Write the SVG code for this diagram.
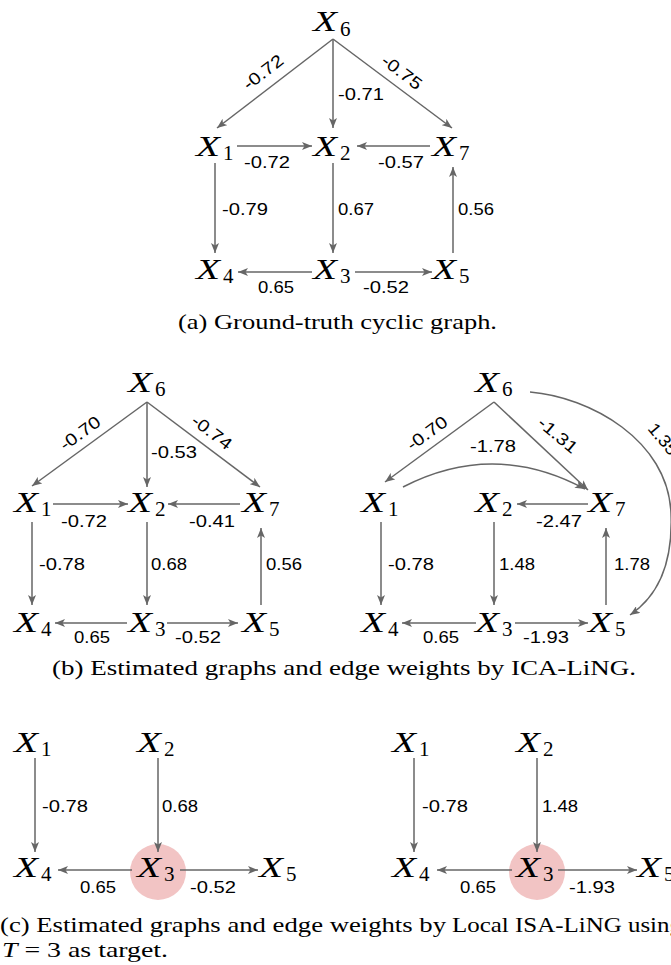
<svg xmlns="http://www.w3.org/2000/svg" width="671" height="965" viewBox="0 0 671 965">
<defs>
<marker id="ah" viewBox="0 0 10 8" refX="10" refY="4" markerWidth="10" markerHeight="8" markerUnits="userSpaceOnUse" orient="auto">
<path d="M0,0 L10,4 L0,8 L2.5,4 z" fill="#666"/>
</marker>
<style>
.e{fill:none;stroke:#666;stroke-width:1.5;marker-end:url(#ah)}
.n{font-family:"Liberation Serif",serif;font-style:italic;font-size:30px;fill:#000}
.s{font-family:"Liberation Serif",serif;font-size:21px;fill:#000}
.l{font-family:"Liberation Sans",Arial,sans-serif;font-size:17px;fill:#000}
.c{font-family:"Liberation Serif",serif;font-size:21px;fill:#000}
.hl{fill:#f2c4c4}
</style>
</defs>
<rect width="671" height="965" fill="#fff"/>

<!-- (a) -->
<g id="a-edges">
<path class="e" d="M333,39 L217,128"/>
<path class="e" d="M333,39 L333,128"/>
<path class="e" d="M333,39 L452,128"/>
<path class="e" d="M237,146 L312,146"/>
<path class="e" d="M430,146 L357,146"/>
<path class="e" d="M215,163 L215,253"/>
<path class="e" d="M333,163 L333,253"/>
<path class="e" d="M453,253 L453,167"/>
<path class="e" d="M312,272 L238,272"/>
<path class="e" d="M355,272 L432,272"/>
<text class="l" x="263" y="78" text-anchor="middle" textLength="46" lengthAdjust="spacingAndGlyphs" transform="rotate(-37.5 263 72)">-0.72</text>
<text class="l" x="338" y="100" textLength="46" lengthAdjust="spacingAndGlyphs">-0.71</text>
<text class="l" x="402" y="78" text-anchor="middle" textLength="46" lengthAdjust="spacingAndGlyphs" transform="rotate(37 402 72)">-0.75</text>
<text class="l" x="244" y="168" textLength="46" lengthAdjust="spacingAndGlyphs">-0.72</text>
<text class="l" x="378" y="168" textLength="46" lengthAdjust="spacingAndGlyphs">-0.57</text>
<text class="l" x="222" y="215" textLength="46" lengthAdjust="spacingAndGlyphs">-0.79</text>
<text class="l" x="338" y="215" textLength="36" lengthAdjust="spacingAndGlyphs">0.67</text>
<text class="l" x="458" y="215" textLength="36" lengthAdjust="spacingAndGlyphs">0.56</text>
<text class="l" x="258" y="293" textLength="36" lengthAdjust="spacingAndGlyphs">0.65</text>
<text class="l" x="363" y="293" textLength="46" lengthAdjust="spacingAndGlyphs">-0.52</text>
</g>
<g id="a-X6"><text class="n" x="313" y="31" textLength="24" lengthAdjust="spacingAndGlyphs">X</text><text class="s" x="340" y="36">6</text></g>
<g id="a-X1"><text class="n" x="196" y="156" textLength="24" lengthAdjust="spacingAndGlyphs">X</text><text class="s" x="223" y="160">1</text></g>
<g id="a-X2"><text class="n" x="313" y="156" textLength="24" lengthAdjust="spacingAndGlyphs">X</text><text class="s" x="340" y="160">2</text></g>
<g id="a-X7"><text class="n" x="432" y="156" textLength="24" lengthAdjust="spacingAndGlyphs">X</text><text class="s" x="459" y="160">7</text></g>
<g id="a-X4"><text class="n" x="196" y="279" textLength="24" lengthAdjust="spacingAndGlyphs">X</text><text class="s" x="223" y="283">4</text></g>
<g id="a-X3"><text class="n" x="313" y="279" textLength="24" lengthAdjust="spacingAndGlyphs">X</text><text class="s" x="340" y="283">3</text></g>
<g id="a-X5"><text class="n" x="432" y="279" textLength="24" lengthAdjust="spacingAndGlyphs">X</text><text class="s" x="459" y="283">5</text></g>
<text class="c" x="178" y="329" textLength="319" lengthAdjust="spacingAndGlyphs">(a) Ground-truth cyclic graph.</text>

<!-- (b) left -->
<g id="bl-edges">
<path class="e" d="M147,402 L32,486"/>
<path class="e" d="M147,402 L147,487"/>
<path class="e" d="M147,402 L260,487"/>
<path class="e" d="M53,504 L128,504"/>
<path class="e" d="M240,504 L168,504"/>
<path class="e" d="M32,522 L32,605"/>
<path class="e" d="M147,522 L147,605"/>
<path class="e" d="M261,605 L261,528"/>
<path class="e" d="M127,623 L55,623"/>
<path class="e" d="M167,623 L238,623"/>
<text class="l" x="80" y="439" text-anchor="middle" textLength="46" lengthAdjust="spacingAndGlyphs" transform="rotate(-36 80 433)">-0.70</text>
<text class="l" x="151" y="458" textLength="46" lengthAdjust="spacingAndGlyphs">-0.53</text>
<text class="l" x="212" y="438" text-anchor="middle" textLength="46" lengthAdjust="spacingAndGlyphs" transform="rotate(37 212 432)">-0.74</text>
<text class="l" x="61" y="527" textLength="46" lengthAdjust="spacingAndGlyphs">-0.72</text>
<text class="l" x="189" y="527" textLength="46" lengthAdjust="spacingAndGlyphs">-0.41</text>
<text class="l" x="39" y="570" textLength="46" lengthAdjust="spacingAndGlyphs">-0.78</text>
<text class="l" x="151" y="570" textLength="36" lengthAdjust="spacingAndGlyphs">0.68</text>
<text class="l" x="266" y="570" textLength="36" lengthAdjust="spacingAndGlyphs">0.56</text>
<text class="l" x="74" y="643" textLength="36" lengthAdjust="spacingAndGlyphs">0.65</text>
<text class="l" x="175" y="643" textLength="46" lengthAdjust="spacingAndGlyphs">-0.52</text>
</g>
<g id="bl-X6"><text class="n" x="128" y="392" textLength="24" lengthAdjust="spacingAndGlyphs">X</text><text class="s" x="155" y="396">6</text></g>
<g id="bl-X1"><text class="n" x="14" y="512" textLength="24" lengthAdjust="spacingAndGlyphs">X</text><text class="s" x="41" y="516">1</text></g>
<g id="bl-X2"><text class="n" x="128" y="512" textLength="24" lengthAdjust="spacingAndGlyphs">X</text><text class="s" x="155" y="516">2</text></g>
<g id="bl-X7"><text class="n" x="242" y="512" textLength="24" lengthAdjust="spacingAndGlyphs">X</text><text class="s" x="269" y="516">7</text></g>
<g id="bl-X4"><text class="n" x="14" y="632" textLength="24" lengthAdjust="spacingAndGlyphs">X</text><text class="s" x="41" y="636">4</text></g>
<g id="bl-X3"><text class="n" x="128" y="632" textLength="24" lengthAdjust="spacingAndGlyphs">X</text><text class="s" x="155" y="636">3</text></g>
<g id="bl-X5"><text class="n" x="242" y="632" textLength="24" lengthAdjust="spacingAndGlyphs">X</text><text class="s" x="269" y="636">5</text></g>

<!-- (b) right -->
<g id="br-edges">
<path class="e" d="M494,402 L385,482"/>
<path class="e" d="M494,402 L588,490"/>
<path class="e" d="M403,487 Q494,440 585,489"/>
<path class="e" d="M530,392 C590,397 668,440 671,513 C673,560 660,595 630,615"/>
<path class="e" d="M588,504 L517,504"/>
<path class="e" d="M381,522 L381,605"/>
<path class="e" d="M494,522 L494,605"/>
<path class="e" d="M606,605 L606,528"/>
<path class="e" d="M476,623 L402,623"/>
<path class="e" d="M515,623 L588,623"/>
<text class="l" x="427" y="439" text-anchor="middle" textLength="46" lengthAdjust="spacingAndGlyphs" transform="rotate(-36 427 433)">-0.70</text>
<text class="l" x="470" y="452" textLength="46" lengthAdjust="spacingAndGlyphs">-1.78</text>
<text class="l" x="558" y="441" text-anchor="middle" textLength="46" lengthAdjust="spacingAndGlyphs" transform="rotate(40 558 435)">-1.31</text>
<text class="l" x="647" y="429" textLength="36" lengthAdjust="spacingAndGlyphs" transform="rotate(50 647 429)">1.35</text>
<text class="l" x="536" y="527" textLength="46" lengthAdjust="spacingAndGlyphs">-2.47</text>
<text class="l" x="388" y="570" textLength="46" lengthAdjust="spacingAndGlyphs">-0.78</text>
<text class="l" x="499" y="570" textLength="36" lengthAdjust="spacingAndGlyphs">1.48</text>
<text class="l" x="614" y="570" textLength="36" lengthAdjust="spacingAndGlyphs">1.78</text>
<text class="l" x="423" y="643" textLength="36" lengthAdjust="spacingAndGlyphs">0.65</text>
<text class="l" x="523" y="643" textLength="46" lengthAdjust="spacingAndGlyphs">-1.93</text>
</g>
<g id="br-X6"><text class="n" x="475" y="392" textLength="24" lengthAdjust="spacingAndGlyphs">X</text><text class="s" x="502" y="396">6</text></g>
<g id="br-X1"><text class="n" x="361" y="512" textLength="24" lengthAdjust="spacingAndGlyphs">X</text><text class="s" x="388" y="516">1</text></g>
<g id="br-X2"><text class="n" x="475" y="512" textLength="24" lengthAdjust="spacingAndGlyphs">X</text><text class="s" x="502" y="516">2</text></g>
<g id="br-X7"><text class="n" x="588" y="512" textLength="24" lengthAdjust="spacingAndGlyphs">X</text><text class="s" x="615" y="516">7</text></g>
<g id="br-X4"><text class="n" x="361" y="632" textLength="24" lengthAdjust="spacingAndGlyphs">X</text><text class="s" x="388" y="636">4</text></g>
<g id="br-X3"><text class="n" x="475" y="632" textLength="24" lengthAdjust="spacingAndGlyphs">X</text><text class="s" x="502" y="636">3</text></g>
<g id="br-X5"><text class="n" x="588" y="632" textLength="24" lengthAdjust="spacingAndGlyphs">X</text><text class="s" x="615" y="636">5</text></g>
<text class="c" x="52" y="675" textLength="584" lengthAdjust="spacingAndGlyphs">(b) Estimated graphs and edge weights by ICA-LiNG.</text>

<!-- (c) left -->
<g id="cl-X3-hl"><circle class="hl" cx="158" cy="872" r="28"/></g>
<g id="cl-edges">
<path class="e" d="M35,758 L35,852"/>
<path class="e" d="M158,758 L158,852"/>
<path class="e" d="M132,870 L58,870"/>
<path class="e" d="M180,870 L258,870"/>
<text class="l" x="42" y="812" textLength="46" lengthAdjust="spacingAndGlyphs">-0.78</text>
<text class="l" x="162" y="812" textLength="36" lengthAdjust="spacingAndGlyphs">0.68</text>
<text class="l" x="80" y="893" textLength="36" lengthAdjust="spacingAndGlyphs">0.65</text>
<text class="l" x="190" y="893" textLength="46" lengthAdjust="spacingAndGlyphs">-0.52</text>
</g>
<g id="cl-X1"><text class="n" x="14" y="752" textLength="24" lengthAdjust="spacingAndGlyphs">X</text><text class="s" x="41" y="756">1</text></g>
<g id="cl-X2"><text class="n" x="137" y="752" textLength="24" lengthAdjust="spacingAndGlyphs">X</text><text class="s" x="164" y="756">2</text></g>
<g id="cl-X4"><text class="n" x="14" y="877" textLength="24" lengthAdjust="spacingAndGlyphs">X</text><text class="s" x="41" y="881">4</text></g>
<g id="cl-X3"><text class="n" x="137" y="877" textLength="24" lengthAdjust="spacingAndGlyphs">X</text><text class="s" x="164" y="881">3</text></g>
<g id="cl-X5"><text class="n" x="259" y="877" textLength="24" lengthAdjust="spacingAndGlyphs">X</text><text class="s" x="286" y="881">5</text></g>

<!-- (c) right -->
<g id="cr-X3-hl"><circle class="hl" cx="537" cy="872" r="28"/></g>
<g id="cr-edges">
<path class="e" d="M414,758 L414,852"/>
<path class="e" d="M537,758 L537,852"/>
<path class="e" d="M512,870 L437,870"/>
<path class="e" d="M558,870 L637,870"/>
<text class="l" x="422" y="812" textLength="46" lengthAdjust="spacingAndGlyphs">-0.78</text>
<text class="l" x="542" y="812" textLength="36" lengthAdjust="spacingAndGlyphs">1.48</text>
<text class="l" x="460" y="893" textLength="36" lengthAdjust="spacingAndGlyphs">0.65</text>
<text class="l" x="569" y="893" textLength="46" lengthAdjust="spacingAndGlyphs">-1.93</text>
</g>
<g id="cr-X1"><text class="n" x="392" y="752" textLength="24" lengthAdjust="spacingAndGlyphs">X</text><text class="s" x="419" y="756">1</text></g>
<g id="cr-X2"><text class="n" x="516" y="752" textLength="24" lengthAdjust="spacingAndGlyphs">X</text><text class="s" x="543" y="756">2</text></g>
<g id="cr-X4"><text class="n" x="392" y="877" textLength="24" lengthAdjust="spacingAndGlyphs">X</text><text class="s" x="419" y="881">4</text></g>
<g id="cr-X3"><text class="n" x="516" y="877" textLength="24" lengthAdjust="spacingAndGlyphs">X</text><text class="s" x="543" y="881">3</text></g>
<g id="cr-X5"><text class="n" x="637" y="877" textLength="24" lengthAdjust="spacingAndGlyphs">X</text><text class="s" x="664" y="881">5</text></g>

<text class="c" x="0" y="932" textLength="446" lengthAdjust="spacingAndGlyphs">(c) Estimated graphs and edge weights by</text>
<text class="c" x="452" y="932" textLength="230" lengthAdjust="spacingAndGlyphs">Local ISA-LiNG using</text>
<text class="c" x="2" y="957" textLength="166" lengthAdjust="spacingAndGlyphs"><tspan font-style="italic">T</tspan> = 3 as target.</text>
</svg>
